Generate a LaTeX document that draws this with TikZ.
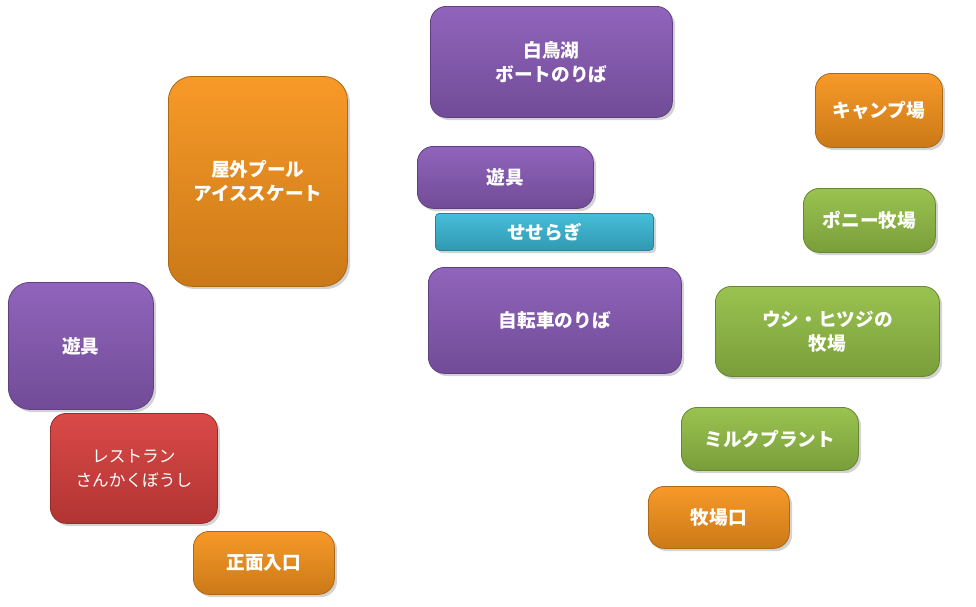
\documentclass[tikz,border=0pt]{standalone}
\usepackage{fontspec}
\setmainfont{Noto Sans CJK JP}
\usetikzlibrary{shadows}
\definecolor{purp}{HTML}{8A5CB8}
\definecolor{oran}{HTML}{F7941D}
\definecolor{gree}{HTML}{94C047}
\definecolor{redd}{HTML}{D8403E}
\definecolor{cyan}{HTML}{3CBAD8}
\tikzset{
  area/.style={anchor=north west, rounded corners=12pt, draw=#1!70!black, line width=0.6pt,
    top color=#1!95!white, bottom color=#1!82!black, drop shadow={opacity=0.35, shadow xshift=2pt, shadow yshift=-2pt},
    text=white, font=\bfseries\fontsize{14}{18}\selectfont, align=center, inner sep=0pt},
  purpbox/.style={area=purp},
  oranbox/.style={area=oran},
  greebox/.style={area=gree},
  reddbox/.style={area=redd, font=\fontsize{12.5}{18}\selectfont},
  cyanbox/.style={area=cyan, rounded corners=3pt},
}
\newcommand{\areabox}[7]{\node[#1, minimum width=#4*0.75pt-#2*0.75pt, minimum height=#5*0.75pt-#3*0.75pt] (#6) at (#2*0.75pt,-#3*0.75pt) {#7};}
\begin{document}
\begin{tikzpicture}
\useasboundingbox (0,0) rectangle (976*0.75pt,-607*0.75pt);
% north side
\areabox{purpbox}{430}{6}{672}{117}{boat}{白鳥湖\\ボートのりば}
\areabox{oranbox}{815}{73}{942}{147}{camp}{キャンプ場}
\areabox{oranbox, rounded corners=18pt}{168}{76}{347}{286}{pool}{屋外プール\\アイススケート}
\areabox{purpbox}{417}{146}{593}{208}{play}{遊具}
\areabox{cyanbox}{435}{213}{653}{250}{brook}{せせらぎ}
\areabox{greebox}{803}{188}{935}{252}{pony}{ポニー牧場}
% middle
\areabox{purpbox}{428}{267}{681}{373}{bike}{自転車のりば}
\areabox{greebox}{715}{286}{939}{376}{farm}{ウシ・ヒツジの\\牧場}
\areabox{purpbox, rounded corners=16pt}{8}{282}{153}{409}{playw}{遊具}
% south side
\areabox{reddbox}{50}{413}{217}{523}{rest}{レストラン\\さんかくぼうし}
\areabox{greebox}{681}{407}{858}{470}{milk}{ミルクプラント}
\areabox{oranbox}{648}{486}{789}{548}{farmgate}{牧場口}
\areabox{oranbox}{193}{531}{334}{594}{gate}{正面入口}
\end{tikzpicture}
\end{document}
